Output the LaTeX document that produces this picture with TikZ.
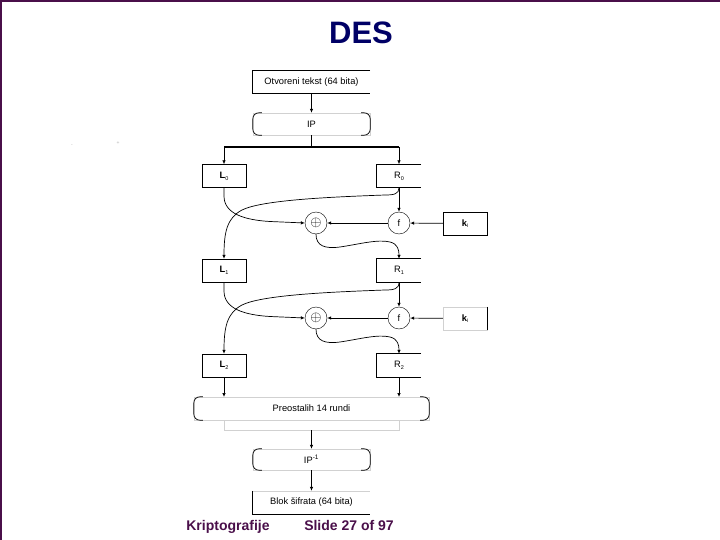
\documentclass[tikz,border=0pt]{standalone}
\usepackage{fontspec}
\setmainfont{Liberation Sans}
\usetikzlibrary{arrows.meta}
\definecolor{navy}{HTML}{000066}
\definecolor{slidepurple}{HTML}{4A0F4A}
\definecolor{faint}{gray}{0.82}
\newcommand\lsub[1]{\raisebox{-0.35ex}{\fontsize{5.5}{6}\selectfont #1}}
\tikzset{
  lbl/.style={font=\fontsize{9.3}{11}\selectfont},
  regbox/.style={draw, minimum width=44pt, minimum height=23pt, inner sep=0pt, lbl},
  openbox/.style={minimum width=44pt, minimum height=23pt, inner sep=0pt, lbl},
  widebox/.style={minimum width=117pt, minimum height=23pt, inner sep=0pt, lbl},
  opcirc/.style={circle, draw, minimum size=22pt, inner sep=0pt, lbl},
  conn/.style={line width=0.7pt},
  arr/.style={conn, -{Latex[length=4pt,width=3.5pt]}},
}
\newcommand\threeside[1]{\draw[conn] (#1.north east) -- (#1.north west) -- (#1.south west) -- (#1.south east);}
\newcommand\brackets[1]{%
  \draw[faint, line width=0.5pt] (#1.north west) rectangle (#1.south east);
  \draw[conn, rounded corners=6pt] ([xshift=9pt]#1.north west) -- (#1.north west) -- (#1.south west) -- ([xshift=9pt]#1.south west);
  \draw[conn, rounded corners=6pt] ([xshift=-9pt]#1.north east) -- (#1.north east) -- (#1.south east) -- ([xshift=-9pt]#1.south east);}
\begin{document}
\begin{tikzpicture}[x=1pt, y=-1pt]
\useasboundingbox (0,0) rectangle (720,540);
\fill[white] (0,0) rectangle (720,540);
% slide frame
\draw[slidepurple, line width=2pt] (1,540) -- (1,1) -- (720,1);
% title and footer
\node[font=\fontsize{31}{34}\selectfont\bfseries, text=navy] (title) at (361,33) {DES};
\node[font=\fontsize{14}{16}\selectfont\bfseries, text=slidepurple] (foot1) at (228,527) {Kriptografije};
\node[font=\fontsize{14}{16}\selectfont\bfseries, text=slidepurple] (foot2) at (349,525) {Slide 27 of 97};
% stray marks
\node[font=\fontsize{5}{6}\selectfont, text=gray!60] (m1) at (72,146) {-};
\node[font=\fontsize{5}{6}\selectfont, text=gray!60] (m2) at (118,143) {+};

% boxes
\node[widebox] (pt) at (311.5,82) {Otvoreni tekst (64 bita)};
\threeside{pt}
\node[widebox, minimum height=22pt] (ip) at (311.5,124) {IP};
\brackets{ip}
\coordinate (split) at (311.5,147);
\coordinate (splitL) at (224,147);
\coordinate (splitR) at (399,147);

\node[regbox] (L0) at (224,176) {\textbf{L}\lsub{0}};
\node[openbox] (R0) at (399,176) {R\lsub{0}};
\threeside{R0}
\node[opcirc] (x1) at (316,223) {\Large$\oplus$};
\node[opcirc] (f1) at (399,223) {f};
\node[regbox] (k1) at (465,223.5) {\textbf{k}\lsub{i}};

\node[regbox] (L1) at (224,270.5) {\textbf{L}\lsub{1}};
\node[openbox] (R1) at (399,270.5) {R\lsub{1}};
\threeside{R1}
\node[opcirc] (x2) at (316,318) {\Large$\oplus$};
\node[opcirc] (f2) at (399,318) {f};
\node[openbox] (k2) at (465,318.5) {\textbf{k}\lsub{i}};
\draw[faint, line width=0.5pt] (k2.north west) rectangle (k2.south east);
\draw[conn] (k2.north east) -- (k2.south east);

\node[regbox] (L2) at (224,365.5) {\textbf{L}\lsub{2}};
\node[openbox] (R2) at (399,365.5) {R\lsub{2}};
\threeside{R2}

\node[minimum width=235pt, minimum height=23pt, inner sep=0pt, lbl] (rest) at (311.5,408.5) {Preostalih 14 rundi};
\brackets{rest}
\node[widebox, minimum height=21pt] (ipinv) at (311.5,459.5) {IP\textsuperscript{-1}};
\brackets{ipinv}
\node[widebox] (ct) at (311.5,502.5) {Blok šifrata (64 bita)};
\draw[faint, line width=0.5pt] (ct.north west) -- (ct.north east);
\draw[conn] (ct.north west) -- (ct.south west) -- (ct.south east);

% connectors
\draw[arr] (pt) -- (ip);
\draw[conn] (ip.south) -- (split);
\draw[line width=1.2pt] (splitL) -- (splitR);
\draw[arr] (splitL) -- (L0);
\draw[arr] (splitR) -- (R0);

% round 1
\draw[arr] (L0.south) -- (224,196) .. controls (224,214) and (245,220) .. (270,221.5) -- (x1.west);
\draw[arr] (R0.south) .. controls (399,194) and (394,195) .. (385,195) .. controls (330,197) and (262,200) .. (242,210) .. controls (227,218) and (224,232) .. (L1.north);
\draw[arr] (R0.south) -- (f1.north);
\draw[arr] (k1) -- (f1);
\draw[arr] (f1) -- (x1);
\draw[arr] (x1.south) .. controls (316,246) and (325,249) .. (340,247) .. controls (360,244) and (378,239) .. (390,242) .. controls (398,244) and (399,250) .. (R1.north);

% round 2
\draw[arr] (L1.south) -- (224,291) .. controls (224,309) and (245,315) .. (270,316.5) -- (x2.west);
\draw[arr] (R1.south) .. controls (399,289) and (394,290) .. (385,290) .. controls (330,292) and (262,295) .. (242,305) .. controls (227,313) and (224,327) .. (L2.north);
\draw[arr] (R1.south) -- (f2.north);
\draw[arr] (k2) -- (f2);
\draw[arr] (f2) -- (x2);
\draw[arr] (x2.south) .. controls (316,341) and (325,344) .. (340,342) .. controls (360,339) and (378,334) .. (390,337) .. controls (398,339) and (399,345) .. (R2.north);

% to remaining rounds
\coordinate (restL) at (224,397);
\coordinate (restR) at (399,397);
\draw[arr] (L2.south) -- (restL);
\draw[arr] (R2.south) -- (restR);
\coordinate (jL) at (224,430);
\coordinate (jR) at (399,430);
\coordinate (jM) at (311.5,430);
\draw[faint, line width=0.6pt] (224,420) -- (jL) -- (jR) -- (399,420);
\draw[arr] (jM) -- (ipinv.north);
\draw[arr] (ipinv) -- (ct);
\end{tikzpicture}
\end{document}
